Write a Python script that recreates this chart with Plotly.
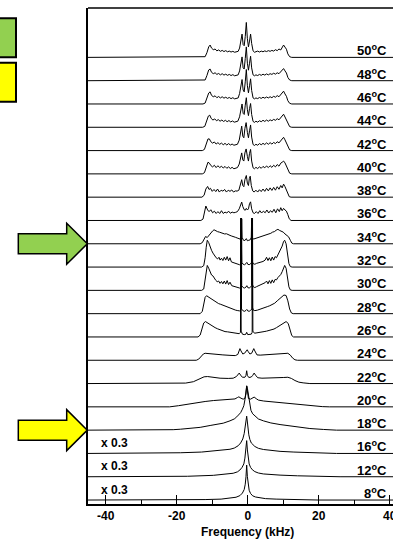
import plotly.graph_objects as go

# ---------------- data (frequency kHz, intensity in units of trace spacing) ----------------
temps = [8, 12, 16, 18, 20, 22, 24, 26, 28, 30, 32, 34, 36, 38, 40, 42, 44, 46, 48, 50]
scaled_temps = [8, 12, 16]          # traces marked "x 0.3"
scale_label = "x 0.3"
x_ticks = [-40, -20, 0, 20, 40]
x_tick_text = ["-40", "-20", "0", "20", "40"]
x_minor_ticks = [-30, -10, 10, 30]
x_title = "Frequency (kHz)"

spec_50 = [(-45,0),(-12.6,0),(-12.0,0.03),(-11.5,0.2),(-11.0,0.45),(-10.6,0.53),(-10.2,0.4),(-9.7,0.33),(-9.2,0.36),(-8.7,0.28),(-8.2,0.32),(-7.7,0.26),(-7.2,0.30),(-6.7,0.25),(-6.2,0.29),(-5.7,0.24),(-5.2,0.27),(-4.7,0.23),(-4.2,0.26),(-3.7,0.22),(-3.2,0.24),(-2.7,0.26),(-2.3,0.4),(-1.9,0.8),(-1.6,1.0),(-1.3,0.55),(-1.0,0.5),(-0.7,0.9),(-0.4,1.5),(-0.1,0.8),(0.2,0.45),(0.5,0.7),(0.8,1.0),(1.1,0.6),(1.5,0.28),(1.9,0.22),(2.3,0.24),(2.8,0.27),(3.3,0.23),(3.8,0.27),(4.3,0.24),(4.8,0.28),(5.3,0.25),(5.8,0.29),(6.3,0.26),(6.8,0.30),(7.3,0.27),(7.8,0.33),(8.3,0.29),(8.8,0.36),(9.3,0.32),(9.7,0.42),(10.1,0.53),(10.5,0.44),(10.9,0.35),(11.3,0.15),(11.8,0.03),(12.4,0),(41,0)]
spec_48 = [(-45,0),(-12.6,0),(-12.0,0.03),(-11.5,0.22),(-11.0,0.46),(-10.6,0.5),(-10.2,0.36),(-9.7,0.3),(-9.2,0.34),(-8.7,0.27),(-8.2,0.31),(-7.7,0.25),(-7.2,0.3),(-6.7,0.24),(-6.2,0.28),(-5.7,0.23),(-5.2,0.27),(-4.7,0.22),(-4.2,0.26),(-3.7,0.21),(-3.2,0.23),(-2.7,0.25),(-2.3,0.42),(-1.9,0.85),(-1.6,1.02),(-1.3,0.55),(-1.0,0.5),(-0.7,0.95),(-0.4,1.45),(-0.1,0.75),(0.2,0.45),(0.5,0.75),(0.8,1.05),(1.1,0.55),(1.5,0.25),(1.9,0.21),(2.3,0.25),(2.8,0.22),(3.3,0.27),(3.8,0.23),(4.3,0.28),(4.8,0.24),(5.3,0.29),(5.8,0.25),(6.3,0.3),(6.8,0.27),(7.3,0.32),(7.8,0.28),(8.3,0.34),(8.8,0.3),(9.3,0.38),(9.7,0.45),(10.1,0.52),(10.5,0.42),(10.9,0.33),(11.3,0.14),(11.8,0.03),(12.4,0),(41,0)]
spec_46 = [(-45,0),(-12.6,0),(-12.0,0.04),(-11.5,0.24),(-11.0,0.47),(-10.6,0.52),(-10.2,0.37),(-9.7,0.31),(-9.2,0.35),(-8.7,0.27),(-8.2,0.32),(-7.7,0.26),(-7.2,0.31),(-6.7,0.25),(-6.2,0.29),(-5.7,0.24),(-5.2,0.28),(-4.7,0.23),(-4.2,0.27),(-3.7,0.22),(-3.2,0.24),(-2.7,0.26),(-2.3,0.45),(-1.9,0.88),(-1.6,1.05),(-1.3,0.6),(-1.0,0.52),(-0.7,0.95),(-0.4,1.48),(-0.1,0.78),(0.2,0.48),(0.5,0.78),(0.8,1.08),(1.1,0.58),(1.5,0.26),(1.9,0.22),(2.3,0.26),(2.8,0.23),(3.3,0.28),(3.8,0.24),(4.3,0.29),(4.8,0.25),(5.3,0.3),(5.8,0.26),(6.3,0.31),(6.8,0.27),(7.3,0.33),(7.8,0.29),(8.3,0.36),(8.8,0.31),(9.3,0.4),(9.7,0.47),(10.1,0.55),(10.5,0.43),(10.9,0.33),(11.3,0.14),(11.8,0.03),(12.4,0),(41,0)]
spec_44 = [(-45,0),(-12.7,0),(-12.1,0.04),(-11.6,0.25),(-11.1,0.48),(-10.7,0.52),(-10.3,0.38),(-9.8,0.31),(-9.3,0.36),(-8.8,0.28),(-8.3,0.33),(-7.8,0.26),(-7.3,0.31),(-6.8,0.25),(-6.3,0.3),(-5.8,0.24),(-5.3,0.29),(-4.8,0.23),(-4.3,0.27),(-3.8,0.22),(-3.3,0.25),(-2.8,0.26),(-2.3,0.45),(-1.9,0.85),(-1.6,1.0),(-1.3,0.6),(-1.0,0.55),(-0.7,0.95),(-0.4,1.27),(-0.1,0.75),(0.2,0.5),(0.5,0.8),(0.8,1.02),(1.1,0.55),(1.5,0.25),(1.9,0.21),(2.3,0.26),(2.8,0.22),(3.3,0.28),(3.8,0.24),(4.3,0.3),(4.8,0.25),(5.3,0.31),(5.8,0.26),(6.3,0.32),(6.8,0.28),(7.3,0.34),(7.8,0.3),(8.3,0.37),(8.8,0.32),(9.3,0.42),(9.7,0.48),(10.1,0.56),(10.5,0.44),(10.9,0.32),(11.3,0.14),(11.8,0.03),(12.4,0),(41,0)]
spec_42 = [(-45,0),(-12.8,0),(-12.2,0.05),(-11.7,0.28),(-11.2,0.5),(-10.8,0.5),(-10.4,0.38),(-9.9,0.32),(-9.4,0.37),(-8.9,0.28),(-8.4,0.34),(-7.9,0.27),(-7.4,0.32),(-6.9,0.25),(-6.4,0.31),(-5.9,0.24),(-5.4,0.3),(-4.9,0.24),(-4.4,0.28),(-3.9,0.23),(-3.4,0.26),(-2.9,0.27),(-2.4,0.45),(-2.0,0.85),(-1.7,1.05),(-1.4,0.62),(-1.1,0.55),(-0.8,0.95),(-0.45,1.2),(-0.1,0.78),(0.2,0.55),(0.5,0.85),(0.8,1.1),(1.1,0.58),(1.5,0.26),(1.9,0.22),(2.3,0.27),(2.8,0.23),(3.3,0.3),(3.8,0.25),(4.3,0.31),(4.8,0.26),(5.3,0.33),(5.8,0.27),(6.3,0.34),(6.8,0.28),(7.3,0.35),(7.8,0.3),(8.3,0.38),(8.8,0.33),(9.3,0.44),(9.7,0.5),(10.1,0.57),(10.5,0.46),(10.9,0.33),(11.3,0.15),(11.8,0.03),(12.4,0),(41,0)]
spec_40 = [(-45,0),(-12.8,0),(-12.2,0.05),(-11.7,0.3),(-11.2,0.5),(-10.8,0.46),(-10.4,0.36),(-9.9,0.3),(-9.4,0.37),(-8.9,0.27),(-8.4,0.35),(-7.9,0.27),(-7.4,0.33),(-6.9,0.25),(-6.4,0.32),(-5.9,0.24),(-5.4,0.3),(-4.9,0.23),(-4.4,0.28),(-3.9,0.22),(-3.4,0.25),(-2.9,0.27),(-2.4,0.42),(-2.0,0.78),(-1.7,0.9),(-1.4,0.6),(-1.1,0.55),(-0.8,0.9),(-0.45,1.07),(-0.1,0.75),(0.2,0.55),(0.5,0.88),(0.8,1.05),(1.1,0.55),(1.5,0.26),(1.9,0.22),(2.3,0.28),(2.8,0.23),(3.3,0.3),(3.8,0.24),(4.3,0.32),(4.8,0.26),(5.3,0.34),(5.8,0.27),(6.3,0.35),(6.8,0.28),(7.3,0.37),(7.8,0.3),(8.3,0.4),(8.8,0.33),(9.3,0.46),(9.7,0.5),(10.1,0.55),(10.5,0.47),(10.9,0.33),(11.3,0.15),(11.8,0.03),(12.4,0),(41,0)]
spec_38 = [(-45,0),(-12.9,0),(-12.3,0.08),(-11.8,0.35),(-11.3,0.46),(-10.9,0.33),(-10.5,0.38),(-10.0,0.25),(-9.5,0.33),(-9.0,0.24),(-8.5,0.35),(-8.0,0.22),(-7.5,0.3),(-7.0,0.26),(-6.5,0.33),(-6.0,0.22),(-5.5,0.3),(-5.0,0.25),(-4.5,0.31),(-4.0,0.22),(-3.5,0.27),(-3.0,0.26),(-2.5,0.3),(-2.1,0.55),(-1.7,0.75),(-1.4,0.5),(-1.1,0.45),(-0.8,0.75),(-0.4,0.93),(-0.1,0.6),(0.2,0.5),(0.45,0.8),(0.7,0.9),(1.0,0.5),(1.4,0.27),(1.8,0.22),(2.3,0.3),(2.8,0.22),(3.3,0.32),(3.8,0.24),(4.3,0.35),(4.8,0.25),(5.3,0.38),(5.8,0.27),(6.3,0.4),(6.8,0.29),(7.3,0.42),(7.8,0.3),(8.3,0.45),(8.8,0.34),(9.3,0.5),(9.7,0.4),(10.1,0.56),(10.5,0.45),(10.9,0.3),(11.3,0.12),(11.7,0.02),(12.2,0),(41,0)]
spec_36 = [(-45,0),(-13.2,0),(-12.6,0.06),(-12.2,0.4),(-11.8,0.62),(-11.3,0.45),(-10.9,0.38),(-10.4,0.46),(-9.9,0.33),(-9.4,0.4),(-8.9,0.3),(-8.4,0.38),(-7.9,0.3),(-7.4,0.42),(-6.9,0.3),(-6.4,0.36),(-5.9,0.32),(-5.4,0.4),(-4.9,0.31),(-4.4,0.36),(-3.9,0.33),(-3.4,0.35),(-2.9,0.38),(-2.4,0.5),(-2.0,0.7),(-1.7,0.79),(-1.4,0.6),(-1.0,0.46),(-0.7,0.44),(-0.4,0.52),(-0.1,0.45),(0.2,0.5),(0.5,0.72),(0.8,0.8),(1.1,0.5),(1.5,0.33),(1.9,0.3),(2.4,0.38),(2.9,0.3),(3.4,0.42),(3.9,0.32),(4.4,0.4),(4.9,0.33),(5.4,0.45),(5.9,0.32),(6.4,0.42),(6.9,0.35),(7.4,0.48),(7.9,0.33),(8.4,0.5),(8.9,0.38),(9.3,0.55),(9.7,0.42),(10.1,0.52),(10.5,0.45),(10.9,0.4),(11.3,0.25),(11.7,0.07),(12.2,0),(41,0)]
spec_34 = [(-45,0),(-13.4,0),(-12.8,0.05),(-12.4,0.2),(-11.9,0.31),(-11.4,0.27),(-10.9,0.38),(-10.4,0.45),(-9.9,0.55),(-9.5,0.6),(-9.0,0.55),(-8.5,0.52),(-8.0,0.5),(-7.5,0.47),(-7.0,0.45),(-6.5,0.42),(-6.0,0.43),(-5.5,0.38),(-5.0,0.36),(-4.5,0.33),(-4.0,0.32),(-3.5,0.28),(-3.0,0.25),(-2.5,0.22),(-2.1,0.2),(-1.8,0.28),(-1.7,1.07),(-1.6,0.28),(-1.2,0.15),(-0.8,0.14),(-0.4,0.22),(-0.1,0.13),(0.3,0.15),(0.7,0.17),(1.0,0.28),(1.1,1.07),(1.2,0.28),(1.6,0.2),(2.2,0.23),(3.0,0.26),(3.5,0.3),(4.0,0.32),(4.5,0.35),(5.0,0.36),(5.5,0.4),(6.0,0.42),(6.5,0.45),(7.0,0.5),(7.5,0.52),(8.0,0.58),(8.5,0.62),(9.0,0.57),(9.5,0.55),(10.0,0.5),(10.5,0.42),(11.0,0.35),(11.5,0.3),(12.0,0.15),(12.4,0.03),(12.9,0),(41,0)]
spec_32 = [(-45,0),(-13.0,0),(-12.4,0.06),(-12.0,0.4),(-11.7,0.85),(-11.4,1.15),(-11.0,1.05),(-10.6,0.85),(-10.2,0.72),(-9.8,0.6),(-9.3,0.47),(-8.9,0.4),(-8.5,0.35),(-8.1,0.42),(-7.8,0.3),(-7.4,0.38),(-7.0,0.28),(-6.6,0.42),(-6.2,0.3),(-5.8,0.45),(-5.4,0.27),(-5.0,0.4),(-4.6,0.22),(-4.1,0.2),(-3.5,0.15),(-2.9,0.12),(-2.3,0.1),(-1.85,0.15),(-1.75,2.1),(-1.65,0.2),(-1.3,0.12),(-0.9,0.1),(-0.5,0.15),(-0.25,0.2),(0.0,0.12),(0.4,0.1),(0.8,0.14),(1.05,0.2),(1.15,2.1),(1.25,0.25),(1.5,0.15),(2.0,0.12),(2.5,0.16),(3.1,0.18),(3.7,0.2),(4.3,0.24),(4.9,0.3),(5.3,0.42),(5.7,0.28),(6.1,0.4),(6.5,0.27),(6.9,0.43),(7.3,0.3),(7.7,0.45),(8.1,0.4),(8.5,0.52),(8.9,0.62),(9.3,0.78),(9.7,0.9),(10.1,1.1),(10.4,1.15),(10.8,1.0),(11.2,0.55),(11.6,0.15),(12.0,0.02),(12.5,0),(41,0)]
spec_30 = [(-45,0),(-13.0,0),(-12.4,0.06),(-12.0,0.45),(-11.7,0.85),(-11.4,1.07),(-11.0,0.95),(-10.6,0.75),(-10.2,0.66),(-9.8,0.62),(-9.4,0.5),(-9.0,0.43),(-8.6,0.37),(-8.2,0.4),(-7.8,0.3),(-7.4,0.38),(-7.0,0.28),(-6.6,0.4),(-6.2,0.27),(-5.8,0.42),(-5.4,0.25),(-5.0,0.35),(-4.5,0.2),(-4.0,0.18),(-3.4,0.14),(-2.8,0.12),(-2.3,0.1),(-1.9,0.15),(-1.8,3.1),(-1.7,0.2),(-1.3,0.12),(-0.9,0.1),(-0.5,0.14),(-0.25,0.2),(0.0,0.12),(0.4,0.1),(0.8,0.14),(1.1,0.2),(1.2,3.1),(1.3,0.25),(1.6,0.15),(2.0,0.12),(2.5,0.16),(3.1,0.2),(3.7,0.22),(4.3,0.26),(4.9,0.33),(5.3,0.4),(5.7,0.28),(6.1,0.42),(6.5,0.3),(6.9,0.45),(7.3,0.33),(7.7,0.47),(8.1,0.45),(8.5,0.55),(8.9,0.62),(9.3,0.68),(9.7,0.8),(10.1,1.0),(10.4,1.07),(10.8,0.95),(11.2,0.55),(11.6,0.15),(12.0,0.02),(12.5,0),(41,0)]
spec_28 = [(-45,0),(-13.4,0),(-12.8,0.1),(-12.4,0.45),(-12.0,0.7),(-11.6,0.77),(-11.1,0.72),(-10.6,0.65),(-10.0,0.6),(-9.4,0.55),(-8.8,0.5),(-8.2,0.43),(-7.6,0.4),(-7.0,0.36),(-6.4,0.32),(-5.8,0.3),(-5.2,0.26),(-4.6,0.22),(-4.0,0.18),(-3.4,0.15),(-2.8,0.13),(-2.3,0.12),(-1.95,0.15),(-1.85,4.1),(-1.75,0.2),(-1.3,0.12),(-0.9,0.1),(-0.5,0.14),(-0.25,0.18),(0.0,0.12),(0.4,0.1),(0.8,0.14),(1.15,0.2),(1.25,4.1),(1.35,0.25),(1.6,0.15),(2.0,0.13),(2.7,0.15),(3.4,0.18),(4.1,0.22),(4.8,0.26),(5.5,0.3),(6.2,0.34),(6.9,0.38),(7.6,0.45),(8.3,0.55),(9.0,0.65),(9.6,0.75),(10.2,0.8),(10.8,0.78),(11.3,0.55),(11.8,0.2),(12.3,0.03),(12.8,0),(41,0)]
spec_26 = [(-45,0),(-14.0,0),(-13.4,0.08),(-12.9,0.35),(-12.4,0.6),(-11.9,0.66),(-11.3,0.6),(-10.6,0.52),(-9.9,0.45),(-9.2,0.4),(-8.5,0.35),(-7.8,0.3),(-7.1,0.27),(-6.4,0.23),(-5.7,0.22),(-5.0,0.2),(-4.3,0.18),(-3.6,0.16),(-3.0,0.15),(-2.4,0.14),(-2.05,0.2),(-1.95,5.1),(-1.85,0.25),(-1.5,0.12),(-1.0,0.1),(-0.5,0.12),(-0.3,0.2),(0.0,0.1),(0.5,0.1),(1.0,0.12),(1.25,0.2),(1.35,5.1),(1.45,0.25),(1.9,0.16),(2.5,0.17),(3.2,0.18),(3.9,0.2),(4.6,0.23),(5.3,0.25),(6.0,0.28),(6.7,0.3),(7.4,0.34),(8.1,0.4),(8.8,0.47),(9.5,0.55),(10.2,0.63),(10.8,0.66),(11.4,0.58),(11.9,0.3),(12.4,0.06),(12.9,0),(41,0)]
spec_24 = [(-45,0),(-14.5,0),(-13.8,0.05),(-13.2,0.15),(-12.5,0.27),(-12.0,0.3),(-11.0,0.28),(-9.0,0.25),(-7.0,0.23),(-5.0,0.21),(-3.5,0.2),(-2.8,0.25),(-2.4,0.45),(-2.2,0.5),(-1.9,0.4),(-1.4,0.27),(-0.9,0.3),(-0.4,0.4),(-0.15,0.45),(0.1,0.38),(0.6,0.27),(1.1,0.3),(1.4,0.45),(1.7,0.5),(2.0,0.4),(2.6,0.23),(3.5,0.22),(5.0,0.23),(7.0,0.25),(9.0,0.27),(10.5,0.29),(11.3,0.3),(12.0,0.22),(12.6,0.1),(13.3,0.02),(14.0,0),(41,0)]
spec_22 = [(-45,0),(-19.5,0),(-17.5,0.02),(-15.3,0.08),(-14.2,0.15),(-13.4,0.23),(-12.3,0.29),(-11.3,0.3),(-9.5,0.26),(-7.8,0.23),(-5.5,0.22),(-4.1,0.23),(-3.2,0.3),(-2.8,0.38),(-2.4,0.45),(-2.0,0.36),(-1.5,0.27),(-0.8,0.27),(-0.5,0.35),(-0.3,0.55),(-0.1,0.35),(0.3,0.26),(1.0,0.28),(1.4,0.35),(1.8,0.45),(2.2,0.36),(2.8,0.25),(4.0,0.23),(6.0,0.23),(8.0,0.24),(10.0,0.26),(11.3,0.27),(12.3,0.22),(13.3,0.13),(14.4,0.06),(15.6,0.03),(17.5,0),(41,0)]
spec_20 = [(-45,0),(-22,0),(-19.5,0.05),(-17.2,0.11),(-15.5,0.16),(-14.0,0.2),(-12.0,0.23),(-9.7,0.27),(-7.5,0.29),(-5.0,0.31),(-3.6,0.34),(-2.9,0.4),(-2.5,0.43),(-1.9,0.37),(-1.3,0.33),(-0.8,0.36),(-0.5,0.55),(-0.3,0.9),(-0.1,0.55),(0.2,0.36),(0.8,0.33),(1.3,0.37),(1.8,0.42),(2.4,0.35),(3.0,0.29),(4.5,0.25),(6.5,0.22),(9.1,0.19),(11.5,0.15),(13.8,0.11),(16.0,0.07),(18.5,0.04),(21.0,0.01),(23.0,0),(41,0)]
spec_18 = [(-45,0),(-25,0),(-21,0.02),(-19,0.04),(-16.3,0.07),(-13.4,0.12),(-10.6,0.2),(-8.5,0.25),(-6.9,0.3),(-5.0,0.4),(-3.8,0.48),(-3.1,0.57),(-2.5,0.66),(-2.0,0.75),(-1.5,0.9),(-1.1,1.05),(-0.8,1.3),(-0.5,1.6),(-0.3,1.9),(-0.1,1.8),(0.2,1.5),(0.5,1.1),(0.9,0.85),(1.4,0.7),(2.0,0.6),(3.0,0.48),(4.4,0.4),(6.5,0.31),(9.1,0.24),(11.5,0.19),(13.8,0.14),(17.5,0.07),(21.3,0.03),(25,0),(41,0)]
spec_16 = [(-45,0),(-25,0),(-19,0.03),(-13,0.06),(-9.7,0.1),(-6.9,0.13),(-5.0,0.18),(-3.8,0.23),(-2.7,0.33),(-2.0,0.45),(-1.4,0.62),(-1.0,0.85),(-0.7,1.1),(-0.5,1.4),(-0.3,1.6),(-0.1,1.35),(0.1,1.0),(0.3,0.8),(0.6,0.6),(1.0,0.45),(2.0,0.3),(3.0,0.22),(4.4,0.17),(6.5,0.12),(9.1,0.09),(13.0,0.06),(18.4,0.03),(25,0),(41,0)]
spec_12 = [(-45,0),(-25,0),(-17,0.02),(-9.7,0.06),(-6.0,0.1),(-4.1,0.15),(-2.9,0.21),(-2.2,0.29),(-1.6,0.4),(-1.1,0.55),(-0.8,0.8),(-0.55,1.15),(-0.3,1.55),(-0.1,1.15),(0.1,0.8),(0.4,0.55),(0.8,0.4),(1.3,0.3),(2.0,0.22),(3.0,0.16),(4.4,0.12),(6.5,0.09),(9.1,0.07),(14,0.04),(20,0.02),(26,0),(41,0)]
spec_8 = [(-45,0),(-22,0),(-12,0.02),(-7.5,0.04),(-5.0,0.07),(-3.3,0.12),(-2.2,0.19),(-1.5,0.3),(-1.0,0.45),(-0.7,0.68),(-0.5,1.0),(-0.3,1.5),(-0.1,1.0),(0.1,0.65),(0.4,0.42),(0.8,0.28),(1.4,0.18),(2.2,0.13),(3.3,0.09),(5.0,0.06),(8.0,0.04),(13,0.02),(20,0),(41,0)]

spectra = {8: spec_8, 12: spec_12, 16: spec_16, 18: spec_18, 20: spec_20, 22: spec_22,
           24: spec_24, 26: spec_26, 28: spec_28, 30: spec_30, 32: spec_32, 34: spec_34,
           36: spec_36, 38: spec_38, 40: spec_40, 42: spec_42, 44: spec_44, 46: spec_46,
           48: spec_48, 50: spec_50}

arrow_targets = [(34, "#92D050"), (18, "#FFFF00")]
legend_colors = ["#92D050", "#FFFF00"]

# ---------------- layout geometry ----------------
W, H = 393, 539
ML, MR, MT, MB = 88, 0, 8, 35
PW, PH = W - ML - MR, H - MT - MB
X_RANGE = [-45, 40.92]
Y_RANGE = [-0.17, 21.12]
FONT = "Liberation Sans, Arial, sans-serif"


def px_to_paper(px, py):
    return (px - ML) / PW, (H - MB - py) / PH


fig = go.Figure()
for idx, t in enumerate(temps):
    pts = spectra[t]
    fig.add_trace(go.Scatter(
        x=[p[0] for p in pts], y=[p[1] + idx for p in pts],
        mode="lines", line=dict(color="black", width=1.0),
        hoverinfo="skip", showlegend=False))

annotations = []
for idx, t in enumerate(temps):
    annotations.append(dict(
        x=39.8, y=idx, xref="x", yref="y", xanchor="right", yanchor="bottom",
        text=f"{t}<sup>o</sup>C", showarrow=False, yshift=-3,
        font=dict(family=FONT, size=13, color="black", weight="bold")))
    if t in scaled_temps:
        annotations.append(dict(
            x=-41.8, y=idx + 0.45, xref="x", yref="y", xanchor="left", yanchor="middle",
            text=scale_label, showarrow=False,
            font=dict(family=FONT, size=12, color="black", weight="bold")))

annotations.append(dict(
    x=0, y=px_to_paper(0, 531.5)[1], xref="x", yref="paper", xanchor="center", yanchor="middle",
    text=x_title, showarrow=False,
    font=dict(family=FONT, size=12, color="black", weight="bold")))

shapes = []
# top frame line
shapes.append(dict(type="line", xref="paper", yref="paper", x0=0, x1=1.02, y0=1, y1=1,
                   line=dict(color="black", width=1.3)))

# arrows
for t, col in arrow_targets:
    idx = temps.index(t)
    py_tip = H - MB - (idx - Y_RANGE[0]) / (Y_RANGE[1] - Y_RANGE[0]) * PH
    pts = [(18.3, py_tip - 10), (66.7, py_tip - 10), (66.7, py_tip - 20.5), (87.3, py_tip),
           (66.7, py_tip + 20.5), (66.7, py_tip + 10), (18.3, py_tip + 10)]
    pp = [px_to_paper(a, b) for a, b in pts]
    path = "M " + " L ".join(f"{a:.5f},{b:.5f}" for a, b in pp) + " Z"
    shapes.append(dict(type="path", xref="paper", yref="paper", path=path,
                       fillcolor=col, line=dict(color="black", width=1.5), layer="above"))

# legend colour boxes (cut at the left edge)
box_rows = [(18.3, 57.3), (62.7, 101.7)]
for (y0, y1), col in zip(box_rows, legend_colors):
    x0p, y0p = px_to_paper(-6, y1)
    x1p, y1p = px_to_paper(16, y0)
    shapes.append(dict(type="rect", xref="paper", yref="paper", x0=x0p, x1=x1p, y0=y0p, y1=y1p,
                       fillcolor=col, line=dict(color="black", width=2)))

fig.update_layout(
    width=W, height=H, margin=dict(l=ML, r=MR, t=MT, b=MB, autoexpand=False),
    paper_bgcolor="white", plot_bgcolor="white",
    showlegend=False, annotations=annotations, shapes=shapes,
    xaxis=dict(range=X_RANGE, showgrid=False, zeroline=False, automargin=False,
               showline=True, linecolor="black", linewidth=2,
               ticks="inside", ticklen=9, tickwidth=1.3, tickcolor="black",
               tickmode="array", tickvals=x_ticks, ticktext=x_tick_text,
               ticklabelstandoff=0, ticklabeloverflow="allow",
               tickfont=dict(family=FONT, size=12, color="black", weight="bold"),
               minor=dict(tickmode="array", tickvals=x_minor_ticks, ticks="inside",
                          ticklen=4, tickwidth=1.3, tickcolor="black")),
    yaxis=dict(range=Y_RANGE, showgrid=False, zeroline=False, showticklabels=False,
               automargin=False,
               showline=True, linecolor="black", linewidth=1.5, ticks=""),
)

fig.write_html("out.html")
